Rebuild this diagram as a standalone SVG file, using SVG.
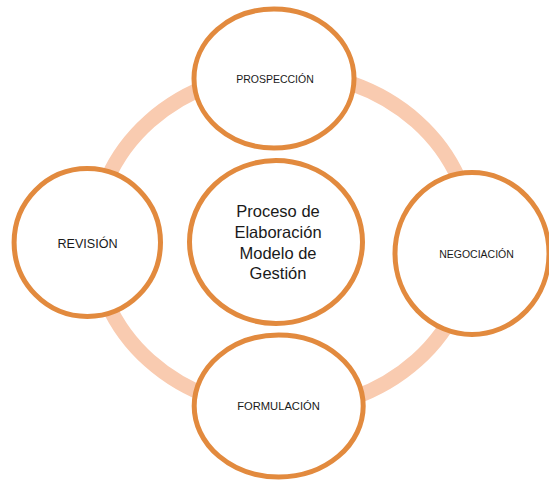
<svg xmlns="http://www.w3.org/2000/svg" width="549" height="480" viewBox="0 0 549 480">
<style>
.node{fill:#FFFFFF;stroke:#E28A3E;stroke-width:5}
.ring{fill:none;stroke:#F9CBB0;stroke-width:15}
.lbl{font-family:"Liberation Sans",Arial,sans-serif;font-size:10.5px;fill:#1a1a1a;text-anchor:middle}
.ctr{font-family:"Liberation Sans",Arial,sans-serif;font-size:16.5px;fill:#1a1a1a;text-anchor:middle}
</style>
<rect width="549" height="480" fill="#FFFFFF"/>
<g id="connectors">
<ellipse class="ring" cx="283" cy="241" rx="189" ry="169"/>
</g>
<g id="prospeccion">
<ellipse class="node" cx="274" cy="78.5" rx="80" ry="69.5"/>
<text class="lbl" x="275" y="82.5">PROSPECCIÓN</text>
</g>
<g id="revision">
<ellipse class="node" cx="87.3" cy="242.5" rx="73.2" ry="74"/>
<text class="lbl" x="87.5" y="248" style="font-size:12.6px">REVISIÓN</text>
</g>
<g id="negociacion">
<ellipse class="node" cx="472" cy="253.5" rx="77" ry="81"/>
<text class="lbl" x="476.5" y="257.5">NEGOCIACIÓN</text>
</g>
<g id="formulacion">
<ellipse class="node" cx="278.7" cy="406" rx="84.5" ry="71"/>
<text class="lbl" x="278.5" y="410" style="font-size:11.2px">FORMULACIÓN</text>
</g>
<g id="centro">
<ellipse class="node" cx="276" cy="242" rx="86.5" ry="81.5"/>
<text class="ctr" x="278" y="216.7">Proceso de</text>
<text class="ctr" x="278" y="237.8">Elaboración</text>
<text class="ctr" x="278" y="258.7">Modelo de</text>
<text class="ctr" x="278" y="279.4">Gestión</text>
</g>
</svg>
